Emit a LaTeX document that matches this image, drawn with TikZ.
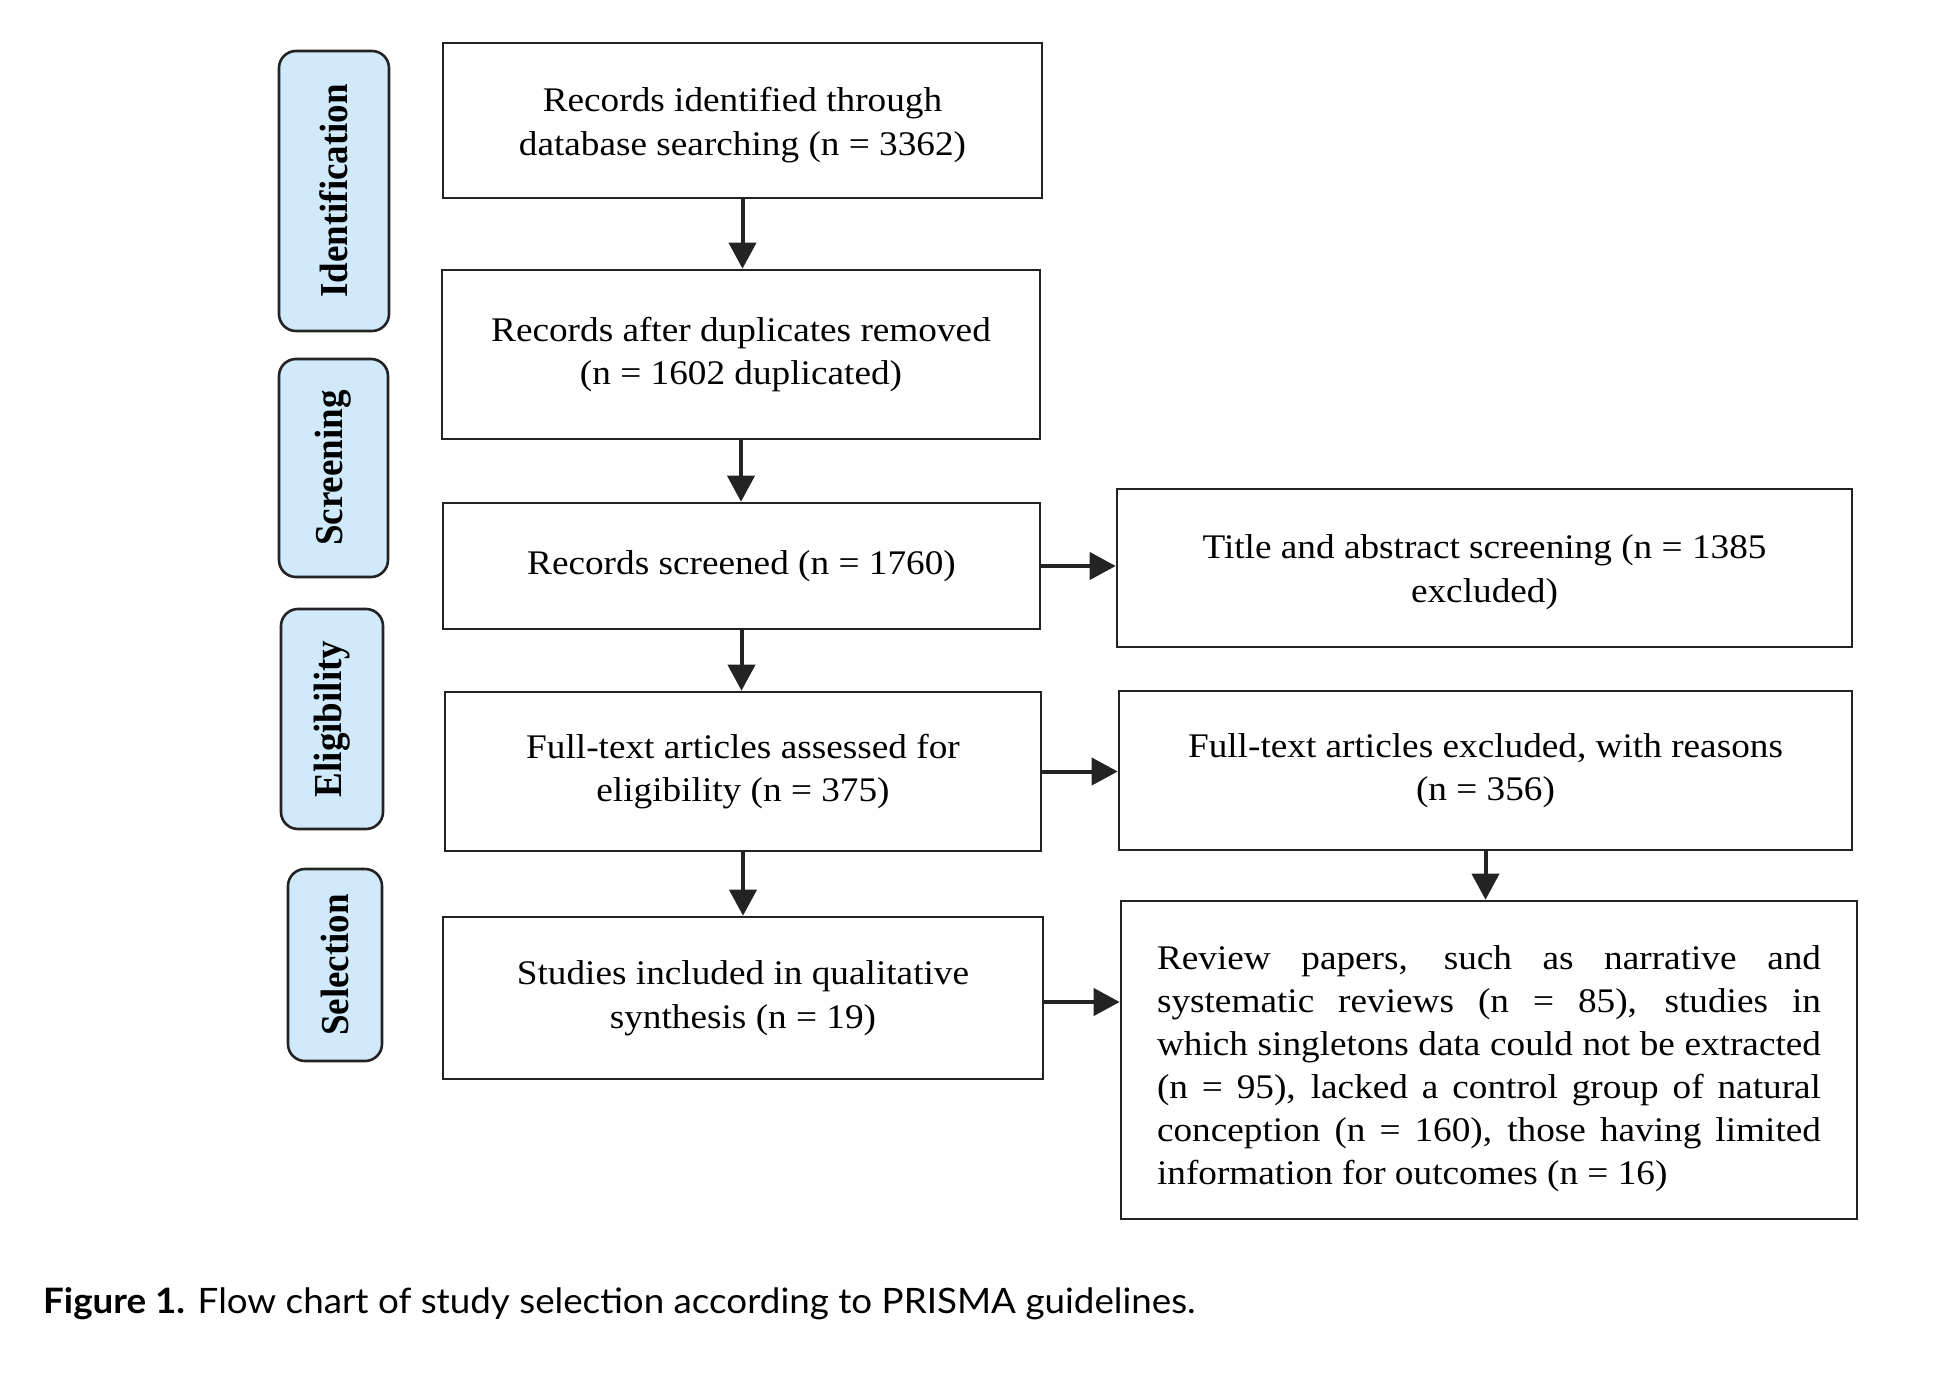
\documentclass[tikz,border=0pt]{standalone}
\usepackage{fontspec}
\setmainfont{Liberation Serif}[FakeStretch=1.08]
\newfontfamily\pillfont{Liberation Serif}
\newfontfamily\capfont{Lato}[FakeStretch=1.05]
\usetikzlibrary{arrows.meta}
\definecolor{pillblue}{RGB}{208,234,252}
\definecolor{edgegray}{RGB}{35,35,35}
\newcommand{\jline}[1]{\makebox[664pt][s]{#1}}
\begin{document}
\begin{tikzpicture}[x=1pt,y=-1pt,
  box/.style={draw=edgegray, line width=2.6pt, rectangle, inner sep=0pt, align=center,
    font=\fontsize{34.5}{43.5}\selectfont, text=black},
  boxtext/.style={inner sep=0pt, align=center, font=\fontsize{34.5}{43.5}\selectfont, text=black},
  pill/.style={draw=edgegray, line width=2.6pt, fill=pillblue, rounded corners=17pt,
    inner sep=0pt, font=\pillfont\bfseries\fontsize{37}{40}\selectfont},
  flow/.style={draw=edgegray, line width=4pt, -{Triangle[length=26pt,width=27pt]}}]
\useasboundingbox (0,0) rectangle (1938,1378);

% stage labels
\node[pill, minimum width=110pt, minimum height=280pt] (p1) at (334,191)
  {\rotatebox{90}{\scalebox{1}[1.07]{Identification}}};
\node[pill, minimum width=109pt, minimum height=218pt] (p2) at (333.5,468)
  {\rotatebox{90}{\scalebox{1}[1.07]{Screening}}};
\node[pill, minimum width=102pt, minimum height=220pt] (p3) at (332,719)
  {\rotatebox{90}{\scalebox{1}[1.07]{Eligibility}}};
\node[pill, minimum width=94pt, minimum height=192pt] (p4) at (335,965)
  {\rotatebox{90}{\scalebox{1}[1.07]{Selection}}};

% boxes
\node[box, minimum width=599pt, minimum height=155pt] (b1) at (742.5,120.5) {};
\node[boxtext] (b1t) at (742.5,125)
  {Records identified through\\database searching (n = 3362)};
\node[box, minimum width=598pt, minimum height=169pt] (b2) at (741,354.5)
  {Records after duplicates removed\\(n = 1602 duplicated)};
\node[box, minimum width=597pt, minimum height=126pt] (b3) at (741.5,566)
  {Records screened (n = 1760)};
\node[box, minimum width=735pt, minimum height=158pt] (b4) at (1484.5,568) {};
\node[boxtext] (b4t) at (1484.5,572)
  {Title and abstract screening (n = 1385\\excluded)};
\node[box, minimum width=596pt, minimum height=159pt] (b5) at (743,771.5)
  {Full-text articles assessed for\\eligibility (n = 375)};
\node[box, minimum width=733pt, minimum height=159pt] (b6) at (1485.5,770.5)
  {Full-text articles excluded, with reasons\\(n = 356)};
\node[box, minimum width=600pt, minimum height=162pt] (b7) at (743,998)
  {Studies included in qualitative\\synthesis (n = 19)};
\node[box, minimum width=736pt, minimum height=318pt] (b8) at (1489,1060) {};
\node[boxtext, align=left, font=\fontsize{34.5}{43}\selectfont] (b8t) at (1489,1069)
  {\jline{Review papers, such as narrative and}\\
   \jline{systematic reviews (n = 85), studies in}\\
   \jline{which singletons data could not be extracted}\\
   \jline{(n = 95), lacked a control group of natural}\\
   \jline{conception (n = 160), those having limited}\\
   \makebox[664pt][l]{information for outcomes (n = 16)}};

% connectors
\draw[flow] (b1.south) -- (b1.south |- b2.north);
\draw[flow] (b2.south) -- (b2.south |- b3.north);
\draw[flow] (b3.south) -- (b3.south |- b5.north);
\draw[flow] (b5.south) -- (b5.south |- b7.north);
\draw[flow] (b6.south) -- (b6.south |- b8.north);
\draw[flow] (b3.east) -- (b3.east -| b4.west);
\draw[flow] (b5.east) -- (b5.east -| b6.west);
\draw[flow] ([yshift=-4pt]b7.east) -- ([yshift=-4pt]b7.east -| b8.west);

% caption
\node[anchor=base west, inner sep=0pt, font=\capfont\fontsize{35}{40}\selectfont] (cap) at (43,1313)
  {\textbf{Figure 1.} Flow chart of study selection according to PRISMA guidelines.};
\end{tikzpicture}
\end{document}
